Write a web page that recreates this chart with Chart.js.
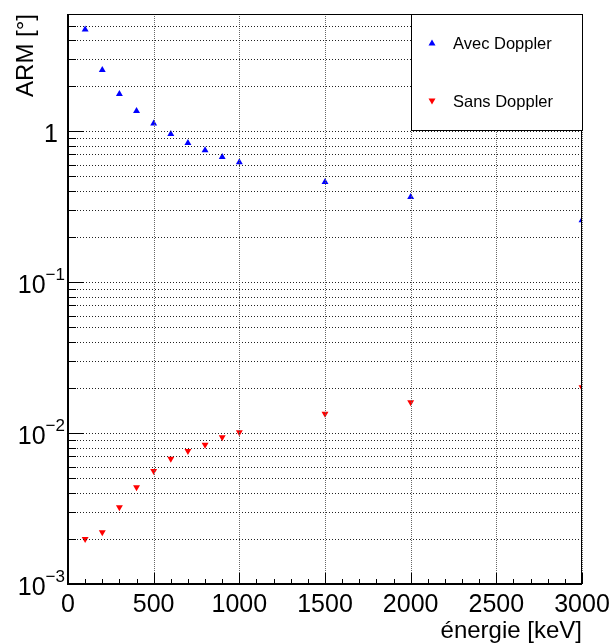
<!DOCTYPE html>
<html>
<head>
<meta charset="utf-8">
<script src="https://cdn.jsdelivr.net/npm/chart.js@4.4.1/dist/chart.umd.min.js"></script>
<style>
  html, body { margin: 0; padding: 0; background: #fff; }
  #wrap { width: 612px; height: 643px; }
</style>
</head>
<body>
<div id="wrap"><canvas id="c" width="612" height="643"></canvas></div>
<script>
// energies in keV
const energies = [100, 200, 300, 400, 500, 600, 700, 800, 900, 1000, 1500, 2000, 3000];
// ARM in degrees
const armAvec = [4.70, 2.54, 1.76, 1.36, 1.12, 0.955, 0.833, 0.745, 0.673, 0.621, 0.459, 0.366, 0.257];
const armSans = [0.00199, 0.0022, 0.00322, 0.00437, 0.0056, 0.00676, 0.0076, 0.00836, 0.00936, 0.0101, 0.0134, 0.0160, 0.0201];

const seriesNames = ["Avec Doppler", "Sans Doppler"];
const xTicks = [0, 500, 1000, 1500, 2000, 2500, 3000];
const yDecades = [0.001, 0.01, 0.1, 1];
const yDecadeLabels = [["10", "\u22123"], ["10", "\u22122"], ["10", "\u22121"], ["1", ""]];
const yMin = 0.001, yMax = 5.96;

const FONT = "'Liberation Sans', Arial, Helvetica, sans-serif";

const toPoints = (xs, ys) => xs.map((x, i) => ({ x: x, y: ys[i] }));

// minor + major positions on the log axis
const logTicks = () => {
  const out = [];
  for (let e = -3; e <= 0; e++) {
    for (let m = 1; m <= 9; m++) {
      const v = m * Math.pow(10, e);
      if (v >= yMin && v <= yMax) out.push(+v.toPrecision(3));
    }
  }
  return out;
};

const rootDecor = {
  id: "rootDecor",
  afterDraw(chart) {
    const ctx = chart.ctx;
    const a = chart.chartArea;
    const xs = chart.scales.x, ys = chart.scales.y;
    ctx.save();

    // dotted grid, ROOT style
    ctx.fillStyle = "#666";
    xTicks.forEach(v => {
      const px = Math.round(xs.getPixelForValue(v));
      for (let y = Math.round(a.top); y < a.bottom; y += 2) ctx.fillRect(px, y, 1, 1);
    });
    ctx.fillStyle = "#222";
    logTicks().forEach(v => {
      const py = Math.round(ys.getPixelForValue(v));
      for (let x = Math.round(a.left); x < a.right; x += 3) ctx.fillRect(x, py, 1, 1);
    });

    // frame
    ctx.strokeStyle = "#000";
    ctx.lineWidth = 1;
    ctx.strokeRect(a.left + 0.5, a.top + 0.5, a.right - a.left - 1, a.bottom - a.top - 1);
    ctx.lineWidth = 2;
    ctx.beginPath();
    ctx.moveTo(a.left, a.top);
    ctx.lineTo(a.left, a.bottom);
    ctx.lineTo(a.right, a.bottom);
    ctx.stroke();

    // x ticks (inside)
    ctx.lineWidth = 1;
    ctx.beginPath();
    for (let v = 0; v <= 3000; v += 100) {
      const px = Math.round(xs.getPixelForValue(v)) + 0.5;
      const len = v % 500 === 0 ? 11 : 5;
      ctx.moveTo(px, a.bottom);
      ctx.lineTo(px, a.bottom - len);
    }
    // y ticks (inside)
    logTicks().forEach(v => {
      const py = Math.round(ys.getPixelForValue(v)) + 0.5;
      const major = yDecades.some(d => Math.abs(d - v) < d * 1e-6);
      ctx.moveTo(a.left, py);
      ctx.lineTo(a.left + (major ? 16 : 8), py);
    });
    ctx.stroke();

    // y labels with exponents
    ctx.fillStyle = "#000";
    ctx.textBaseline = "middle";
    yDecades.forEach((v, i) => {
      const py = ys.getPixelForValue(v);
      const [base, exp] = yDecadeLabels[i];
      const right = 65;
      ctx.font = "17px " + FONT;
      const ew = exp ? ctx.measureText(exp).width : 0;
      ctx.textAlign = "right";
      if (exp) {
        ctx.fillText(exp, right, py - 7);
      }
      ctx.font = "25px " + FONT;
      ctx.fillText(base, exp ? right - ew : right - 7, py + 4);
    });

    // axis titles
    ctx.font = "24px " + FONT;
    ctx.textAlign = "right";
    ctx.textBaseline = "alphabetic";
    ctx.fillText("\u00e9nergie [keV]", a.right, 638);
    ctx.save();
    ctx.translate(33, a.top);
    ctx.rotate(-Math.PI / 2);
    ctx.textAlign = "right";
    ctx.fillText("ARM [\u00b0]", 0, 0);
    ctx.restore();

    // legend box
    const lx = 411, ly = 14, lw = 171, lh = 116;
    ctx.fillStyle = "#fff";
    ctx.fillRect(lx, ly, lw, lh);
    ctx.strokeStyle = "#000";
    ctx.lineWidth = 1;
    ctx.strokeRect(lx + 0.5, ly + 0.5, lw, lh);
    const entries = [
      { name: seriesNames[0], color: "#0000ff", up: true, y: 43 },
      { name: seriesNames[1], color: "#ff0000", up: false, y: 101 }
    ];
    entries.forEach(e => {
      ctx.fillStyle = e.color;
      ctx.beginPath();
      const cx = 432, r = 3.5;
      if (e.up) {
        ctx.moveTo(cx, e.y - r);
        ctx.lineTo(cx + r, e.y + r * 0.7);
        ctx.lineTo(cx - r, e.y + r * 0.7);
      } else {
        ctx.moveTo(cx, e.y + r);
        ctx.lineTo(cx + r, e.y - r * 0.7);
        ctx.lineTo(cx - r, e.y - r * 0.7);
      }
      ctx.closePath();
      ctx.fill();
      ctx.fillStyle = "#000";
      ctx.font = "16.5px " + FONT;
      ctx.textAlign = "left";
      ctx.textBaseline = "middle";
      ctx.fillText(e.name, 453, e.y + 1);
    });

    ctx.restore();
  }
};

new Chart(document.getElementById("c"), {
  type: "scatter",
  data: {
    datasets: [
      {
        label: seriesNames[0],
        data: toPoints(energies, armAvec),
        pointStyle: "triangle",
        pointRadius: 4,
        pointBackgroundColor: "#0000ff",
        pointBorderColor: "#0000ff",
        pointBorderWidth: 0
      },
      {
        label: seriesNames[1],
        data: toPoints(energies, armSans),
        pointStyle: "triangle",
        rotation: 180,
        pointRadius: 4,
        pointBackgroundColor: "#ff0000",
        pointBorderColor: "#ff0000",
        pointBorderWidth: 0
      }
    ]
  },
  options: {
    responsive: false,
    animation: false,
    layout: { padding: { top: 14, right: 30, left: 0, bottom: 0 } },
    plugins: { legend: { display: false }, tooltip: { enabled: false } },
    scales: {
      x: {
        type: "linear",
        min: 0,
        max: 3000,
        afterBuildTicks: s => { s.ticks = xTicks.map(v => ({ value: v })); },
        afterFit: s => { s.height = 59; s.paddingLeft = 0; s.paddingRight = 0; },
        grid: { drawOnChartArea: false, drawTicks: false },
        border: { display: false },
        ticks: {
          autoSkip: false,
          maxRotation: 0,
          padding: 6,
          color: "#000",
          font: { family: FONT, size: 25 },
          callback: v => String(v)
        }
      },
      y: {
        type: "logarithmic",
        min: yMin,
        max: yMax,
        afterBuildTicks: s => { s.ticks = logTicks().map(v => ({ value: v })); },
        afterFit: s => { s.width = 68; s.paddingTop = 0; s.paddingBottom = 0; },
        grid: { drawOnChartArea: false, drawTicks: false },
        border: { display: false },
        ticks: { display: false, autoSkip: false }
      }
    }
  },
  plugins: [rootDecor]
});
</script>
</body>
</html>
